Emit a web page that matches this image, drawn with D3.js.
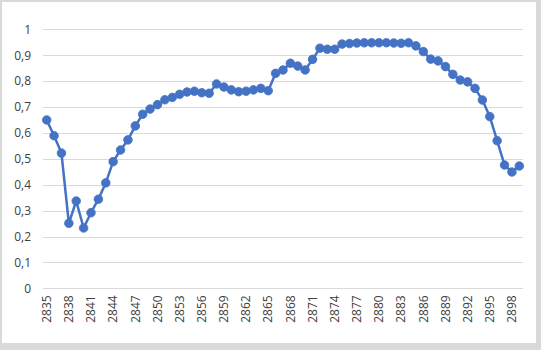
<!DOCTYPE html>
<html>
<head>
<meta charset="utf-8">
<script src="https://cdn.jsdelivr.net/npm/d3@7"></script>
<style>
  html, body { margin: 0; padding: 0; background: #d9d9d9; }
  svg { display: block; }
</style>
</head>
<body>
<svg id="chart" width="541" height="350"></svg>
<script>
// Series: one value per year from 2835 to 2899
const years = d3.range(2835, 2900);
const values = [
  0.650, 0.589, 0.522, 0.251, 0.337, 0.233, 0.292, 0.344, 0.407, 0.489,
  0.534, 0.573, 0.627, 0.672, 0.692, 0.709, 0.728, 0.737, 0.749, 0.758,
  0.761, 0.755, 0.753, 0.789, 0.777, 0.766, 0.759, 0.761, 0.766, 0.772,
  0.763, 0.830, 0.843, 0.869, 0.858, 0.843, 0.884, 0.927, 0.923, 0.923,
  0.943, 0.945, 0.947, 0.948, 0.948, 0.948, 0.948, 0.947, 0.946, 0.948,
  0.936, 0.914, 0.885, 0.878, 0.856, 0.826, 0.804, 0.797, 0.772, 0.727,
  0.663, 0.570, 0.476, 0.449, 0.472
];
const yTicks = [0, 0.1, 0.2, 0.3, 0.4, 0.5, 0.6, 0.7, 0.8, 0.9, 1];
const xTickYears = years.filter((y, i) => i % 3 === 0);

const svg = d3.select("#chart");
const W = 541, H = 350;

// White chart area inside a light grey frame
svg.append("rect")
  .attr("x", 2).attr("y", 2)
  .attr("width", 534).attr("height", 341)
  .attr("fill", "#ffffff");

const plot = { left: 43, right: 523, top: 29.3, bottom: 288.3 };

const x = d3.scaleBand()
  .domain(years)
  .range([plot.left, plot.right])
  .padding(0);

const y = d3.scaleLinear()
  .domain([0, 1])
  .range([plot.bottom, plot.top]);

const cx = d => x(d) + x.bandwidth() / 2;

const font = "'Open Sans', 'Noto Sans', sans-serif";
const fmt = v => String(+v.toFixed(1)).replace(".", ",");

// Horizontal gridlines
svg.append("g")
  .selectAll("line")
  .data(yTicks)
  .join("line")
  .attr("x1", plot.left).attr("x2", plot.right)
  .attr("y1", d => Math.round(y(d)) + 0.5)
  .attr("y2", d => Math.round(y(d)) + 0.5)
  .attr("stroke", "#d9d9d9")
  .attr("stroke-width", 1);

// Y axis labels
const yAxis = d3.axisLeft(y).tickValues(yTicks).tickFormat(fmt).tickSize(0).tickPadding(0);
svg.append("g")
  .attr("transform", `translate(${plot.left - 12},0)`)
  .call(yAxis)
  .call(g => g.select(".domain").remove())
  .call(g => g.selectAll("text")
    .attr("font-family", font)
    .attr("font-size", 12)
    .attr("fill", "#404040"));

// X axis labels, rotated
const xAxis = d3.axisBottom(x).tickValues(xTickYears).tickSize(0).tickPadding(0);
svg.append("g")
  .attr("transform", `translate(0,${plot.bottom})`)
  .call(xAxis)
  .call(g => g.select(".domain").remove())
  .call(g => g.selectAll("text")
    .attr("font-family", font)
    .attr("font-size", 12)
    .attr("fill", "#404040")
    .attr("text-anchor", "end")
    .attr("dy", "0.35em")
    .attr("transform", "translate(0,7) rotate(-90)")
    .attr("x", 0).attr("y", 0));

// Line and markers
const color = "#4472c4";
const line = d3.line()
  .x((d, i) => cx(years[i]))
  .y(d => y(d));

svg.append("path")
  .datum(values)
  .attr("d", line)
  .attr("fill", "none")
  .attr("stroke", color)
  .attr("stroke-width", 2.5)
  .attr("stroke-linejoin", "round");

svg.append("g")
  .selectAll("circle")
  .data(values)
  .join("circle")
  .attr("cx", (d, i) => cx(years[i]))
  .attr("cy", d => y(d))
  .attr("r", 4.3)
  .attr("fill", color)
  .attr("stroke", color)
  .attr("stroke-width", 0.8);
</script>
</body>
</html>
